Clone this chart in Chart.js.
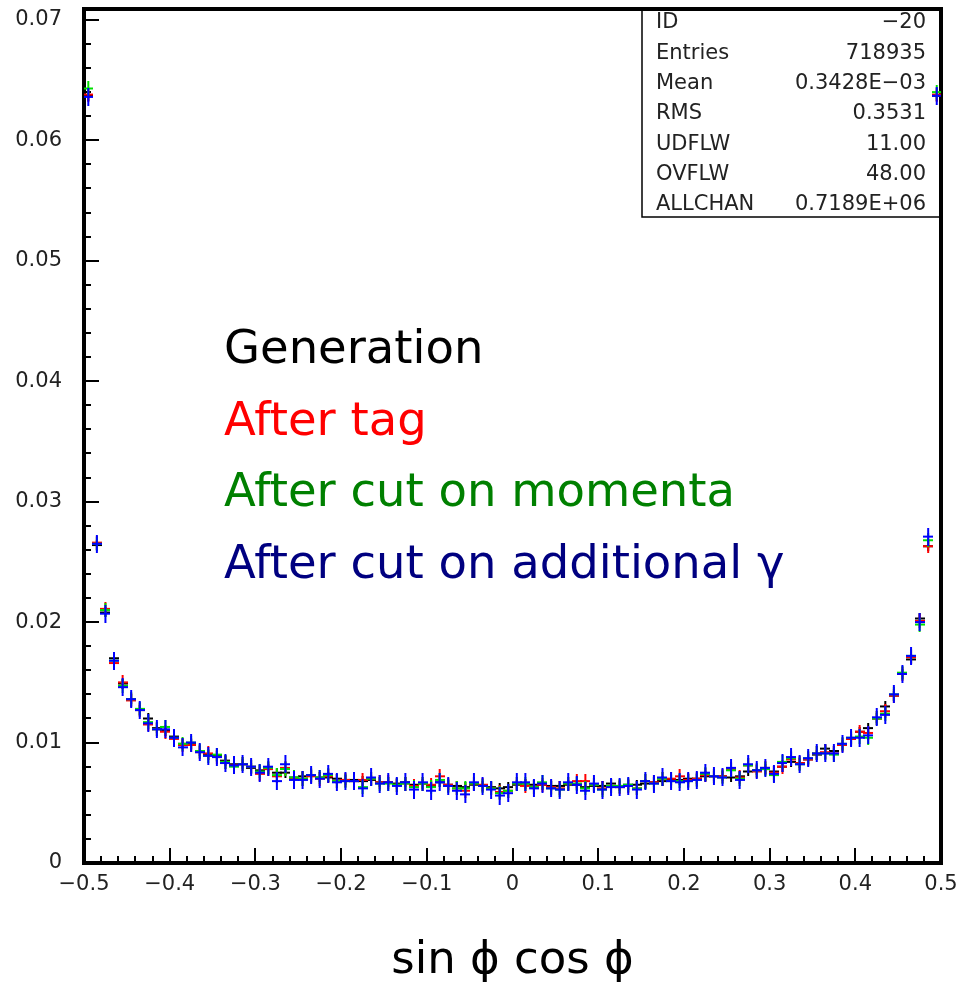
<!DOCTYPE html>
<html>
<head>
<meta charset="utf-8">
<script src="https://cdn.jsdelivr.net/npm/chart.js@4.4.1/dist/chart.umd.min.js"></script>
<style>
  html, body { margin: 0; padding: 0; background: #fff; }
  #wrap { width: 961px; height: 987px; position: relative; }
</style>
</head>
<body>
<div id="wrap"><canvas id="chartHisto"></canvas></div>
<script>
// histogram bins: 100 bins of 0.01 from -0.5 to 0.5
const binLow = -0.5;
const binWidth = 0.01;

const generation = [
  0.0637, 0.0264, 0.0208, 0.0170, 0.0149, 0.0136, 0.0127, 0.0120, 0.0112, 0.0110,
  0.0105, 0.0099, 0.0099, 0.0093, 0.0090, 0.0089, 0.0085, 0.0082, 0.0082, 0.0079,
  0.0077, 0.0078, 0.0075, 0.0075, 0.0071, 0.0072, 0.0073, 0.0071, 0.0071, 0.0070,
  0.0069, 0.0069, 0.0068, 0.0069, 0.0067, 0.0067, 0.0066, 0.0067, 0.0065, 0.0066,
  0.0064, 0.0067, 0.0065, 0.0064, 0.0063, 0.0065, 0.0064, 0.0063, 0.0062, 0.0063,
  0.0065, 0.0066, 0.0065, 0.0065, 0.0064, 0.0064, 0.0065, 0.0065, 0.0063, 0.0064,
  0.0064, 0.0066, 0.0064, 0.0065, 0.0065, 0.0066, 0.0067, 0.0068, 0.0069, 0.0069,
  0.0070, 0.0070, 0.0072, 0.0072, 0.0072, 0.0071, 0.0072, 0.0076, 0.0077, 0.0078,
  0.0076, 0.0080, 0.0084, 0.0083, 0.0086, 0.0090, 0.0095, 0.0093, 0.0098, 0.0103,
  0.0109, 0.0112, 0.0120, 0.0130, 0.0139, 0.0157, 0.0169, 0.0203, 0.0263, 0.0637
];
const afterTag = [
  0.0638, 0.0266, 0.0211, 0.0166, 0.0150, 0.0135, 0.0127, 0.0115, 0.0111, 0.0109,
  0.0103, 0.0098, 0.0098, 0.0092, 0.0091, 0.0088, 0.0084, 0.0081, 0.0082, 0.0080,
  0.0074, 0.0078, 0.0072, 0.0079, 0.0070, 0.0070, 0.0072, 0.0070, 0.0072, 0.0068,
  0.0069, 0.0068, 0.0069, 0.0070, 0.0067, 0.0067, 0.0065, 0.0066, 0.0064, 0.0066,
  0.0065, 0.0072, 0.0065, 0.0062, 0.0060, 0.0066, 0.0065, 0.0062, 0.0059, 0.0060,
  0.0066, 0.0064, 0.0063, 0.0065, 0.0063, 0.0062, 0.0066, 0.0068, 0.0068, 0.0065,
  0.0062, 0.0064, 0.0063, 0.0064, 0.0062, 0.0068, 0.0067, 0.0070, 0.0070, 0.0072,
  0.0069, 0.0070, 0.0073, 0.0072, 0.0072, 0.0078, 0.0071, 0.0081, 0.0076, 0.0079,
  0.0075, 0.0080, 0.0086, 0.0083, 0.0086, 0.0091, 0.0092, 0.0091, 0.0098, 0.0103,
  0.0109, 0.0108, 0.0120, 0.0126, 0.0139, 0.0157, 0.0171, 0.0201, 0.0263, 0.0638
];
const afterMomenta = [
  0.0643, 0.0265, 0.0210, 0.0168, 0.0147, 0.0136, 0.0128, 0.0117, 0.0111, 0.0113,
  0.0104, 0.0099, 0.0100, 0.0093, 0.0089, 0.0090, 0.0084, 0.0080, 0.0082, 0.0080,
  0.0076, 0.0079, 0.0073, 0.0078, 0.0071, 0.0070, 0.0073, 0.0071, 0.0073, 0.0068,
  0.0068, 0.0068, 0.0063, 0.0070, 0.0066, 0.0066, 0.0065, 0.0066, 0.0063, 0.0066,
  0.0063, 0.0069, 0.0064, 0.0062, 0.0062, 0.0066, 0.0064, 0.0062, 0.0058, 0.0060,
  0.0066, 0.0066, 0.0063, 0.0067, 0.0062, 0.0061, 0.0066, 0.0066, 0.0062, 0.0065,
  0.0061, 0.0064, 0.0064, 0.0065, 0.0062, 0.0068, 0.0066, 0.0070, 0.0068, 0.0068,
  0.0068, 0.0069, 0.0074, 0.0072, 0.0071, 0.0077, 0.0070, 0.0081, 0.0077, 0.0078,
  0.0073, 0.0084, 0.0087, 0.0082, 0.0087, 0.0091, 0.0091, 0.0090, 0.0099, 0.0104,
  0.0105, 0.0104, 0.0120, 0.0124, 0.0140, 0.0158, 0.0172, 0.0198, 0.0268, 0.0640
];
const afterGamma = [
  0.0636, 0.0265, 0.0207, 0.0168, 0.0146, 0.0136, 0.0127, 0.0116, 0.0111, 0.0111,
  0.0104, 0.0096, 0.0100, 0.0092, 0.0089, 0.0088, 0.0083, 0.0081, 0.0082, 0.0080,
  0.0075, 0.0080, 0.0068, 0.0082, 0.0069, 0.0069, 0.0073, 0.0070, 0.0074, 0.0067,
  0.0068, 0.0068, 0.0062, 0.0071, 0.0066, 0.0067, 0.0064, 0.0067, 0.0061, 0.0067,
  0.0060, 0.0067, 0.0064, 0.0060, 0.0057, 0.0067, 0.0064, 0.0061, 0.0056, 0.0058,
  0.0067, 0.0067, 0.0062, 0.0066, 0.0062, 0.0061, 0.0067, 0.0065, 0.0060, 0.0066,
  0.0061, 0.0063, 0.0063, 0.0064, 0.0061, 0.0068, 0.0066, 0.0071, 0.0068, 0.0067,
  0.0068, 0.0069, 0.0075, 0.0072, 0.0071, 0.0079, 0.0069, 0.0082, 0.0077, 0.0079,
  0.0074, 0.0083, 0.0088, 0.0082, 0.0087, 0.0091, 0.0091, 0.0091, 0.0099, 0.0104,
  0.0104, 0.0106, 0.0121, 0.0123, 0.0140, 0.0157, 0.0172, 0.0200, 0.0271, 0.0637
];

const seriesNames = ['Generation', 'After tag', 'After cut on momenta', 'After cut on additional γ'];
const textColors = ['#000000', '#ff0000', '#008000', '#000080'];
const markColors = ['#000000', '#ff0000', '#00e000', '#0000ff'];

const statLabels = ['ID', 'Entries', 'Mean', 'RMS', 'UDFLW', 'OVFLW', 'ALLCHAN'];
const statValues = ['\u221220', '718935', '0.3428E\u221203', '0.3531', '11.00', '48.00', '0.7189E+06'];

const xTitle = 'sin \u03d5 cos \u03d5';
const pawFont = '"DejaVu Sans", sans-serif';

// PAW style cross: bar across the bin plus vertical error bar
function crossMark(color, half) {
  const c = document.createElement('canvas');
  c.width = 10;
  c.height = half * 2 + 2;
  const g = c.getContext('2d');
  g.fillStyle = color;
  g.fillRect(0, half, 10, 2);
  g.fillRect(4, 0, 2, c.height);
  return c;
}

function toPoints(vals) {
  return vals.map((v, i) => ({ x: binLow + (i + 0.5) * binWidth, y: v }));
}

function isMajor(v, step) {
  const k = Math.round(v / step);
  return Math.abs(k * step - v) < step * 1e-6;
}

function tickLabel(v, step, digits) {
  if (!isMajor(v, step)) return '';
  const k = Math.round(v / step);
  if (k === 0) return '0';
  return (k < 0 ? '\u2212' : '') + Math.abs(k * step).toFixed(digits);
}

const pawPlugin = {
  id: 'paw',
  beforeDatasetsDraw(chart) {
    const { ctx, chartArea: a, scales: { x, y } } = chart;
    ctx.save();
    ctx.fillStyle = '#000';
    // inward ticks
    x.ticks.forEach(t => {
      const px = Math.round(x.getPixelForValue(t.value));
      const len = isMajor(t.value, 0.1) ? 15 : 7;
      ctx.fillRect(px - 1, a.bottom - len, 2, len);
    });
    y.ticks.forEach(t => {
      const py = Math.round(y.getPixelForValue(t.value));
      const len = isMajor(t.value, 0.01) ? 15 : 7;
      ctx.fillRect(a.left, py - 1, len, 2);
    });
    // frame
    ctx.strokeStyle = '#000';
    ctx.lineWidth = 4;
    ctx.strokeRect(a.left, a.top, a.right - a.left, a.bottom - a.top);

    // statistics box
    const boxLeft = 642, boxBottom = 217;
    ctx.lineWidth = 1.5;
    ctx.strokeRect(boxLeft, a.top, a.right - boxLeft, boxBottom - a.top);
    ctx.font = '21px ' + pawFont;
    ctx.fillStyle = '#222';
    ctx.textBaseline = 'middle';
    statLabels.forEach((lab, i) => {
      const ry = 23 + i * 30.3;
      ctx.textAlign = 'left';
      ctx.fillText(lab, 656, ry);
      ctx.textAlign = 'right';
      ctx.fillText(statValues[i], 926, ry);
    });

    // coloured legend text
    ctx.font = '46.5px ' + pawFont;
    ctx.textAlign = 'left';
    ctx.textBaseline = 'alphabetic';
    seriesNames.forEach((name, i) => {
      ctx.fillStyle = textColors[i];
      ctx.fillText(name, 224, 363 + i * 71.5);
    });
    ctx.restore();
  }
};

const series = [generation, afterTag, afterMomenta, afterGamma];
const halfBars = [4, 6, 6, 8];

const ctxHisto = document.getElementById('chartHisto').getContext('2d');
new Chart(ctxHisto, {
  type: 'scatter',
  data: {
    datasets: series.map((vals, i) => ({
      label: seriesNames[i],
      data: toPoints(vals),
      pointStyle: crossMark(markColors[i], halfBars[i]),
      pointRadius: 5,
      showLine: false,
      order: 3 - i
    }))
  },
  options: {
    responsive: true,
    maintainAspectRatio: false,
    animation: false,
    layout: { padding: { top: 9, right: 20, left: 0, bottom: 0 } },
    plugins: {
      legend: { display: false },
      tooltip: { enabled: false }
    },
    scales: {
      x: {
        type: 'linear',
        min: -0.5,
        max: 0.5,
        afterFit: s => {
          s.height = 124;
          s.paddingLeft = 0;
          s.paddingRight = 0;
        },
        grid: { display: false, drawTicks: false },
        border: { display: false },
        ticks: {
          stepSize: 0.02,
          autoSkip: false,
          maxRotation: 0,
          padding: 9,
          color: '#222',
          font: { family: pawFont, size: 21 },
          callback: v => tickLabel(v, 0.1, 1)
        },
        title: {
          display: true,
          text: xTitle,
          color: '#000',
          font: { family: pawFont, size: 45, lineHeight: 1 },
          padding: { top: 0, bottom: 3 }
        }
      },
      y: {
        min: 0,
        max: 0.0709,
        afterFit: s => {
          s.width = 84;
          s.paddingTop = 0;
          s.paddingBottom = 0;
        },
        grid: { display: false, drawTicks: false },
        border: { display: false },
        ticks: {
          stepSize: 0.002,
          autoSkip: false,
          includeBounds: false,
          padding: 22,
          color: '#222',
          font: { family: pawFont, size: 21 },
          callback: v => tickLabel(v, 0.01, 2)
        }
      }
    }
  },
  plugins: [pawPlugin]
});
</script>
</body>
</html>
